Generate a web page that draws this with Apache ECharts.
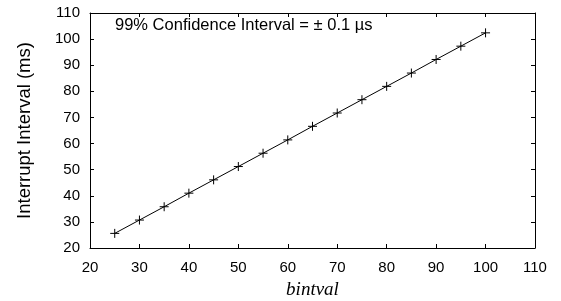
<!DOCTYPE html>
<html>
<head>
<meta charset="utf-8">
<script src="https://cdn.jsdelivr.net/npm/echarts@6/dist/echarts.min.js"></script>
<style>
  html, body { margin: 0; padding: 0; background: #fff; }
  #chart { width: 561px; height: 301px; }
</style>
</head>
<body>
<div id="chart"></div>
<script>
// values
const bintval = [25, 30, 35, 40, 45, 50, 55, 60, 65, 70, 75, 80, 85, 90, 95, 100];
const interruptMs = [25.6, 30.7, 35.8, 41.0, 46.1, 51.2, 56.3, 61.4, 66.6, 71.7, 76.8, 81.9, 87.0, 92.2, 97.3, 102.4];
const noteText = '99% Confidence Interval = \u00b1 0.1 \u00b5s';

const points = bintval.map((x, i) => [x, interruptMs[i]]);

const font = 'Liberation Sans, Arial, sans-serif';
const tickStyle = { show: true, inside: true, length: 4, lineStyle: { color: '#000' } };
const lineStyle = { show: true, lineStyle: { color: '#000', width: 1 } };

const chart = echarts.init(document.getElementById('chart'), null, { renderer: 'canvas' });

chart.setOption({
  animation: false,
  grid: { left: 90, right: 26, top: 13, bottom: 53, outerBoundsMode: 'none', containLabel: false },
  xAxis: [
    {
      type: 'value', min: 20, max: 110, interval: 10,
      axisLine: lineStyle, axisTick: tickStyle, splitLine: { show: false },
      axisLabel: { color: '#000', fontSize: 15, fontFamily: font, margin: 12 },
      name: 'bintval', nameLocation: 'middle', nameGap: 32,
      nameTextStyle: { color: '#000', fontSize: 19, fontFamily: 'Liberation Serif, Times New Roman, serif', fontStyle: 'italic' }
    },
    {
      type: 'value', position: 'top', min: 20, max: 110, interval: 10,
      axisLine: lineStyle, axisTick: tickStyle, splitLine: { show: false },
      axisLabel: { show: false }
    }
  ],
  yAxis: [
    {
      type: 'value', min: 20, max: 110, interval: 10,
      axisLine: lineStyle, axisTick: tickStyle, splitLine: { show: false },
      axisLabel: { color: '#000', fontSize: 15, fontFamily: font, margin: 10 },
      name: 'Interrupt Interval (ms)', nameLocation: 'middle', nameGap: 56, nameRotate: 90,
      nameTextStyle: { color: '#000', fontSize: 18.5, fontFamily: font }
    },
    {
      type: 'value', position: 'right', min: 20, max: 110, interval: 10,
      axisLine: lineStyle, axisTick: tickStyle, splitLine: { show: false },
      axisLabel: { show: false }
    }
  ],
  graphic: [
    {
      type: 'text', left: 115, top: 17,
      style: { text: noteText, fill: '#000', font: '16.5px ' + font }
    }
  ],
  series: [
    {
      type: 'line',
      data: points,
      symbol: 'path://M0,-5L0,5M-5,0L5,0',
      symbolSize: 9,
      itemStyle: { color: 'none', borderColor: '#000', borderWidth: 1 },
      lineStyle: { color: '#000', width: 1 }
    }
  ]
});
</script>
</body>
</html>
